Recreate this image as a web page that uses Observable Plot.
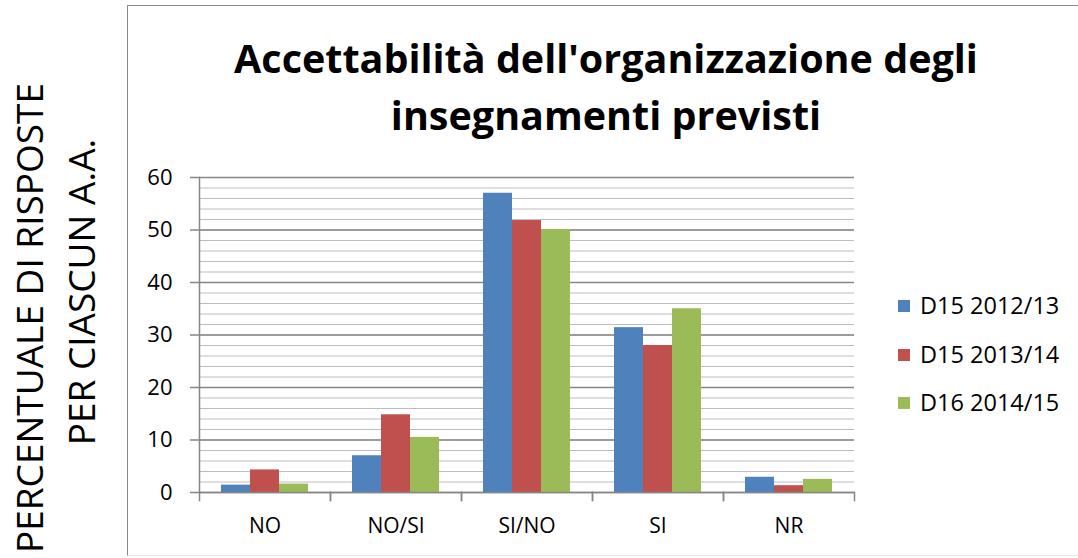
<!DOCTYPE html>
<html><head><meta charset="utf-8">
<script src="https://cdn.jsdelivr.net/npm/d3@7"></script>
<script src="https://cdn.jsdelivr.net/npm/@observablehq/plot@0.6"></script>
<style>
body{margin:0;background:#fff;}
#wrap{position:relative;width:1078px;height:558px;overflow:hidden;font-family:"Open Sans",sans-serif;color:#000;}
#frame{position:absolute;left:127px;top:5px;width:1000px;height:551px;border-left:1.5px solid #8a8a8a;border-top:1.5px solid #8a8a8a;border-bottom:1px solid #e8e8e8;box-sizing:border-box;}
#chart{position:absolute;left:0;top:0;}
.title{position:absolute;left:156px;width:900px;text-align:center;font-weight:bold;font-size:39.5px;line-height:40px;white-space:nowrap;}
.ylab{position:absolute;font-size:37px;line-height:40px;white-space:nowrap;transform:translate(-50%,-50%) rotate(-90deg);}
.leg{position:absolute;left:898px;font-size:23.5px;line-height:30px;white-space:nowrap;}
.leg span.sw{display:inline-block;width:12px;height:12px;margin-right:10px;vertical-align:middle;position:relative;top:-2px;}
</style>
</head><body>
<div id="wrap">
  <div id="frame"></div>
  <div id="chart"></div>
</div>
<script>
const categories = ["NO", "NO/SI", "SI/NO", "SI", "NR"];
const series = ["D15 2012/13", "D15 2013/14", "D16 2014/15"];
const v2012 = [1.4, 7.0, 57.0, 31.4, 2.9];
const v2013 = [4.3, 14.8, 51.8, 28.0, 1.3];
const v2014 = [1.6, 10.5, 50.1, 35.0, 2.5];
const colors = ["#4F81BD", "#C0504D", "#9BBB59"];
const yTicks = [0, 10, 20, 30, 40, 50, 60];
const minorTicks = d3.range(0, 61, 2);
const titleLines = ["Accettabilità dell'organizzazione degli", "insegnamenti previsti"];
const yLabelLines = ["PERCENTUALE DI RISPOSTE", "PER CIASCUN A.A."];

const values = [v2012, v2013, v2014];
const data = [];
categories.forEach((c, i) => series.forEach((s, j) => data.push({cat: c, series: s, value: values[j][i]})));

const plot = Plot.plot({
  width: 1078, height: 558,
  marginLeft: 197, marginRight: 222, marginTop: 177, marginBottom: 66,
  style: {background: "transparent", fontFamily: "'Open Sans', sans-serif", fontSize: "20px", color: "#000", overflow: "visible"},
  fx: {domain: categories, padding: 0, label: null},
  x: {domain: series, paddingInner: 0, paddingOuter: 0.75, axis: null},
  y: {domain: [0, 60], axis: null},
  color: {domain: series, range: colors},
  marks: [
    Plot.ruleY(minorTicks, {stroke: "#bdbdbd", strokeWidth: 1}),
    Plot.ruleY(yTicks, {stroke: "#868686", strokeWidth: 1.3}),
    Plot.barY(data, {fx: "cat", x: "series", y: "value", fill: "series"}),
    Plot.ruleY([0], {stroke: "#868686", strokeWidth: 1.5}),
    Plot.frame({anchor: "left", stroke: "#868686", strokeWidth: 1.5, insetTop: 315, insetBottom: -8}),
    Plot.frame({anchor: "right", stroke: "#868686", strokeWidth: 1.5, insetTop: 315, insetBottom: -8}),
    Plot.frame({anchor: "left", stroke: "#868686", strokeWidth: 1.5, facetAnchor: "left"}),
    Plot.axisY(yTicks, {anchor: "left", tickSize: 9, tickPadding: 18, stroke: "#868686", strokeWidth: 1.5, fontSize: 22, label: null}),
    Plot.axisFx({anchor: "bottom", tickSize: 0, tickPadding: 26, fontSize: 21, label: null})
  ]
});
document.getElementById("chart").appendChild(plot);

const wrap = document.getElementById("wrap");
const titleTops = [38, 95];
titleLines.forEach((t, i) => {
  const d = document.createElement("div");
  d.className = "title";
  d.style.top = titleTops[i] + "px";
  d.textContent = t;
  wrap.appendChild(d);
});
const ylPos = [[29, 318], [81, 292]];
yLabelLines.forEach((t, i) => {
  const d = document.createElement("div");
  d.className = "ylab";
  d.style.left = ylPos[i][0] + "px";
  d.style.top = ylPos[i][1] + "px";
  d.textContent = t;
  wrap.appendChild(d);
});
const legTops = [290, 339, 387];
series.forEach((s, i) => {
  const d = document.createElement("div");
  d.className = "leg";
  d.style.top = legTops[i] + "px";
  const sw = document.createElement("span");
  sw.className = "sw";
  sw.style.background = colors[i];
  d.appendChild(sw);
  d.appendChild(document.createTextNode(s));
  wrap.appendChild(d);
});
</script>
</body></html>
